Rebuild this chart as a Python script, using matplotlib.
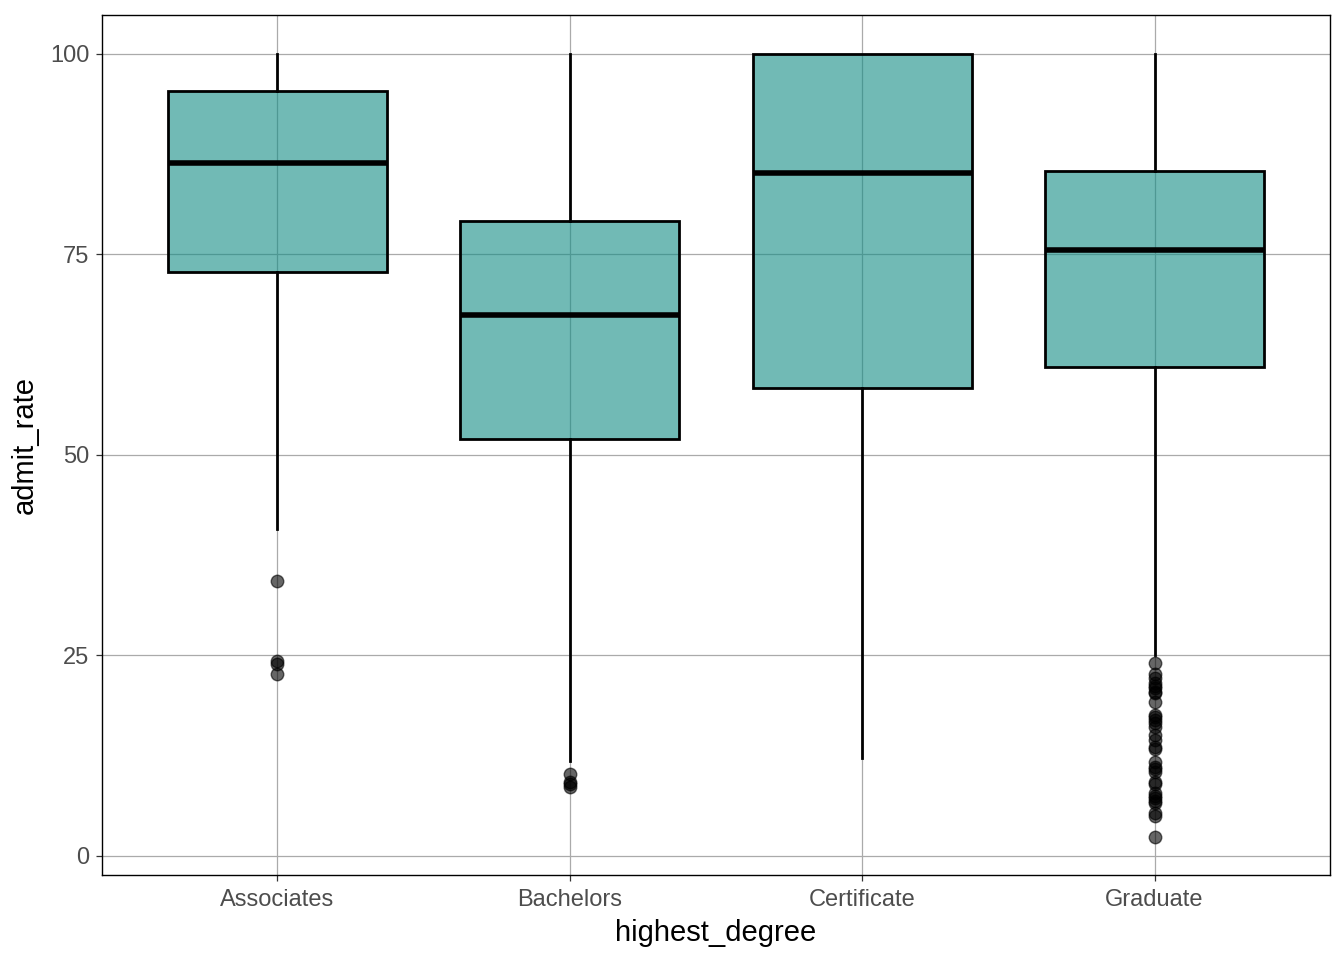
import matplotlib
matplotlib.use("Agg")
import matplotlib.pyplot as plt

categories = ["Associates", "Bachelors", "Certificate", "Graduate"]
q1 = [72.8, 52.0, 58.4, 61.0]
median = [86.4, 67.5, 85.2, 75.6]
q3 = [95.4, 79.2, 100.0, 85.4]
whisker_low = [40.8, 11.8, 12.2, 25.1]
whisker_high = [100.0, 100.0, 100.0, 100.0]
outliers = [
    [34.3, 24.3, 23.9, 22.7],
    [10.2, 9.2, 9.0, 8.6],
    [],
    [24.1, 22.7, 22.2, 21.6, 21.2, 20.9, 20.5, 20.3, 19.2, 17.6, 17.3, 17.0, 16.6,
     16.1, 15.1, 14.5, 13.6, 13.3, 11.7, 11.1, 10.8, 10.5, 9.2, 9.0, 7.9, 7.5,
     7.2, 6.9, 6.6, 5.4, 5.0, 2.4],
]
yticks = [0, 25, 50, 75, 100]

plt.rcParams['font.family'] = ['Liberation Sans', 'DejaVu Sans']

fig = plt.figure(figsize=(13.44, 9.6), dpi=100)
ax = fig.add_axes([102/1344, 85/960, 1228/1344, 860/960])

stats = []
for i, c in enumerate(categories):
    stats.append(dict(label=c, q1=q1[i], med=median[i], q3=q3[i],
                      whislo=whisker_low[i], whishi=whisker_high[i],
                      fliers=outliers[i]))

positions = list(range(1, len(categories) + 1))
ax.bxp(stats, positions=positions, widths=0.75, patch_artist=True,
       showcaps=False, zorder=3,
       boxprops=dict(facecolor=(18/255, 140/255, 133/255, 0.6), edgecolor='black', linewidth=2.0),
       medianprops=dict(color='black', linewidth=4.0),
       whiskerprops=dict(color='black', linewidth=2.0),
       flierprops=dict(marker='o', markersize=9, markerfacecolor=(0, 0, 0, 0.6),
                       markeredgecolor=(0, 0, 0, 0.6), linestyle='none'))

ax.set_xlim(0.4, 4.6)
ax.set_ylim(-2.37, 104.86)
ax.set_yticks(yticks)
ax.set_yticklabels([str(t) for t in yticks])
ax.set_xticks(positions)
ax.set_xticklabels(categories)

ax.grid(True, color='#aaaaaa', linewidth=0.9, zorder=0)
ax.set_axisbelow(True)
for s in ax.spines.values():
    s.set_color('black')
    s.set_linewidth(1.0)

ax.tick_params(axis='both', labelsize=17, labelcolor='#4d4d4d', color='#333333',
               length=4, width=0.9)
ax.tick_params(axis='x', pad=6)
ax.tick_params(axis='y', pad=5)
ax.set_xlabel("highest_degree", fontsize=21, color='black', labelpad=6)
ax.set_ylabel("admit_rate", fontsize=21, color='black', labelpad=8)

fig.savefig("out.png", dpi=100)
